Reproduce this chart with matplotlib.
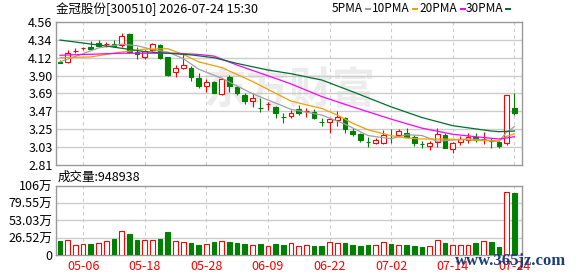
import matplotlib
matplotlib.use("Agg")
import matplotlib.pyplot as plt
from matplotlib.patches import Rectangle
import numpy as np

plt.rcParams['font.family'] = ['Noto Sans CJK SC', 'DejaVu Sans']

title = "金冠股份[300510] 2026-07-24 15:30"
vol_title = "成交量:948938"

opens = [4.07, 4.07, 4.205, 4.235, 4.255, 4.296, 4.285, 4.285, 4.27, 4.41,
         4.19, 4.125, 4.21, 4.275, 4.13, 3.94, 4.00, 4.00, 3.87, 3.78,
         3.82, 3.677, 3.88, 3.76, 3.67, 3.595, 3.51, 3.56, 3.52, 3.40,
         3.41, 3.493, 3.47, 3.46, 3.33, 3.33, 3.36, 3.39, 3.23, 3.185,
         3.095, 3.075, 3.08, 3.136, 3.177, 3.205, 3.148, 3.067, 3.046, 3.087,
         3.177, 3.002, 3.095, 3.115, 3.148, 3.128, 3.108, 3.087, 3.08, 3.50]
highs = [4.09, 4.215, 4.235, 4.255, 4.32, 4.34, 4.316, 4.336, 4.42, 4.42,
         4.255, 4.21, 4.295, 4.285, 4.135, 4.03, 4.165, 4.02, 3.93, 3.857,
         3.83, 3.87, 3.91, 3.775, 3.69, 3.69, 3.625, 3.58, 3.53, 3.44,
         3.48, 3.54, 3.50, 3.49, 3.38, 3.38, 3.47, 3.40, 3.26, 3.205,
         3.156, 3.136, 3.238, 3.245, 3.245, 3.26, 3.176, 3.10, 3.107, 3.26,
         3.197, 3.095, 3.165, 3.205, 3.205, 3.21, 3.136, 3.107, 3.665, 3.685]
lows = [4.05, 4.05, 4.175, 4.21, 4.215, 4.25, 4.255, 4.247, 4.25, 4.175,
        4.11, 4.11, 4.20, 4.11, 3.90, 3.88, 3.98, 3.84, 3.747, 3.705,
        3.69, 3.665, 3.705, 3.665, 3.56, 3.515, 3.46, 3.48, 3.38, 3.327,
        3.38, 3.42, 3.40, 3.37, 3.287, 3.197, 3.287, 3.205, 3.165, 3.095,
        3.027, 3.067, 3.067, 3.082, 3.156, 3.148, 3.04, 3.014, 2.993, 3.027,
        3.014, 2.96, 3.055, 3.075, 3.095, 3.067, 3.014, 3.014, 3.055, 3.42]
closes = [4.06, 4.18, 4.205, 4.235, 4.225, 4.267, 4.285, 4.26, 4.39, 4.185,
          4.16, 4.20, 4.285, 4.12, 3.91, 3.99, 4.03, 3.89, 3.77, 3.827,
          3.69, 3.857, 3.77, 3.685, 3.595, 3.625, 3.51, 3.56, 3.45, 3.40,
          3.44, 3.449, 3.47, 3.39, 3.33, 3.37, 3.40, 3.245, 3.19, 3.115,
          3.095, 3.115, 3.177, 3.136, 3.22, 3.156, 3.082, 3.067, 3.082, 3.185,
          3.014, 3.075, 3.124, 3.156, 3.115, 3.128, 3.108, 3.046, 3.665, 3.44]
# volume in 万股
volumes = [21.5, 23, 15.4, 16.9, 16.9, 18.4, 21, 24.6, 36.4, 32.3,
           23, 22.5, 22.5, 24.6, 35.3, 21, 19.5, 18.4, 15.4, 16.9,
           20, 21, 20, 18.4, 16.9, 15.4, 16.9, 13.8, 16.9, 15.4,
           18, 13.8, 14.8, 13.8, 13.8, 19.5, 18, 18.4, 15.4, 13.8,
           15.4, 15.4, 19.5, 16.9, 14.8, 15.4, 13.8, 12.3, 13.8, 22.5,
           18.4, 15.4, 15.4, 15.4, 18.4, 21, 20, 12.3, 97.3, 94.89]

# moving averages (index, value)
ma5_idx = [0, 3, 5, 8, 10, 12, 14, 16, 18, 21, 25, 30, 34, 37, 40, 43, 45, 47, 49, 53, 56, 57, 58, 59]
ma5 = [4.07, 4.17, 4.24, 4.285, 4.267, 4.22, 4.19, 4.11, 3.98, 3.87, 3.68, 3.49,
       3.42, 3.31, 3.17, 3.13, 3.18, 3.17, 3.10, 3.128, 3.11, 3.10, 3.21, 3.278]
ma10_idx = [0, 4, 8, 11, 14, 16, 18, 21, 25, 30, 34, 36, 38, 40, 43, 45, 47, 51, 56, 57, 58, 59]
ma10 = [4.12, 4.13, 4.19, 4.225, 4.23, 4.16, 4.07, 4.00, 3.83, 3.59, 3.50,
        3.42, 3.32, 3.24, 3.168, 3.14, 3.128, 3.125, 3.103, 3.103, 3.16, 3.19]
ma20_idx = [0, 8, 15, 18, 20, 23, 27, 30, 34, 38, 43, 47, 51, 56, 57, 58, 59]
ma20 = [4.15, 4.175, 4.175, 4.16, 4.14, 4.03, 3.90, 3.80, 3.645, 3.52, 3.37,
        3.26, 3.185, 3.136, 3.128, 3.14, 3.156]
ma30_idx = [0, 6, 11, 17, 20, 23, 27, 30, 34, 38, 43, 47, 51, 56, 57, 59]
ma30 = [4.336, 4.263, 4.194, 4.155, 4.12, 4.05, 3.97, 3.925, 3.848, 3.705,
        3.52, 3.39, 3.29, 3.225, 3.217, 3.225]

date_pos = [3, 11, 19, 27, 35, 43, 51, 59]
date_labels = ["05-06", "05-18", "05-28", "06-09", "06-22", "07-02", "07-14", "07-24"]
price_ticks = [2.81, 3.03, 3.25, 3.47, 3.69, 3.90, 4.12, 4.34, 4.56]
vol_ticks = [0, 26.52, 53.03, 79.55, 106]
vol_tick_labels = ["0", "26.52万", "53.03万", "79.55万", "106万"]

RED = '#ff0000'
GREEN = '#008000'
FRAME = '#999999'
GRID = '#cccccc'
W, H = 578, 276

fig = plt.figure(figsize=(5.78, 2.76), dpi=100)
ax = fig.add_axes([56 / W, 1 - 165 / H, 466 / W, 143.3 / H])
axv = fig.add_axes([56 / W, 1 - 255 / H, 466 / W, 69 / H])

o = np.array(opens)
c = np.array(closes)
hi = np.array(highs)
lo = np.array(lows)
x = np.arange(len(c))
prev = np.r_[o[0], c[:-1]]
vol_up = c >= prev
up = (c > o) | (np.isclose(c, o) & vol_up)
cols = np.where(up, RED, GREEN)
faces = np.where(up, 'white', GREEN)

# watermark
ax.text(0.5, 0.52, "东方财富", transform=ax.transAxes, fontsize=31, fontweight='bold',
        color='#ececec', ha='center', va='center', zorder=0, style='italic')

ax.vlines(x, lo, hi, colors=cols, lw=0.8, zorder=2)
ax.bar(x, np.maximum(np.abs(c - o), 0.0005), 0.6, bottom=np.minimum(o, c),
       color=faces, edgecolor=cols, lw=0.8, zorder=3)

ax.plot(ma5_idx, ma5, color='#a0a0a0', lw=0.9, zorder=4)
ax.plot(ma10_idx, ma10, color='#f0a000', lw=0.9, zorder=4)
ax.plot(ma20_idx, ma20, color='#ff00ff', lw=0.9, zorder=4)
ax.plot(ma30_idx, ma30, color='#006f30', lw=0.9, zorder=4)

vcols = np.where(vol_up, RED, GREEN)
vfaces = np.where(vol_up, 'white', GREEN)
axv.bar(x, volumes, 0.6, color=vfaces, edgecolor=vcols, lw=0.8, zorder=3)

for a in (ax, axv):
    a.set_xlim(-0.52, 60.0)
    for s in a.spines.values():
        s.set_color(FRAME)
        s.set_linewidth(1)
    for p in date_pos:
        a.axvline(p, color=GRID, lw=0.8, ls=(0, (3, 3)), zorder=1)
    a.tick_params(length=0, labelsize=9, colors='black')
    a.set_xticks(date_pos)

ax.set_ylim(2.81, 4.56)
ax.set_yticks(price_ticks)
ax.set_yticklabels([f"{v:.2f}" for v in price_ticks])
for v in price_ticks[1:-1]:
    ax.axhline(v, color=GRID, lw=1, zorder=1)
ax.tick_params(axis='y', pad=2.5)
ax.set_xticklabels([])

axv.set_ylim(0, 106)
axv.set_yticks(vol_ticks)
axv.set_yticklabels(vol_tick_labels)
for v in vol_ticks[1:-1]:
    axv.axhline(v, color=GRID, lw=1, zorder=1)
axv.tick_params(axis='y', pad=2.5)
axv.set_xticklabels(date_labels)
axv.tick_params(axis='x', pad=3.5, labelcolor=RED)

fig.text(56 / W, 1 - 9 / H, title, fontsize=9, ha='left', va='center')
fig.text(58 / W, 1 - 177 / H, vol_title, fontsize=9, ha='left', va='center')

legend_items = [("5PMA", 365, '#a0a0a0'), ("10PMA", 412, '#f0a000'),
                ("20PMA", 459.5, '#ff00ff'), ("30PMA", 505, '#006f30')]
for name, rx, col in legend_items:
    fig.text((rx - 2) / W, 1 - 9 / H, name, fontsize=8.5, ha='right', va='center')
    fig.add_artist(Rectangle((rx / W, 1 - 10.3 / H), 6 / W, 2.6 / H,
                             transform=fig.transFigure, color=col, lw=0))

fig.text(455 / W, 1 - 261 / H, "www.365jz.com", fontsize=12, fontweight='bold',
         family='Liberation Serif', color='#1e3c78', ha='left', va='center', zorder=10)

fig.savefig("out.png", dpi=100)
